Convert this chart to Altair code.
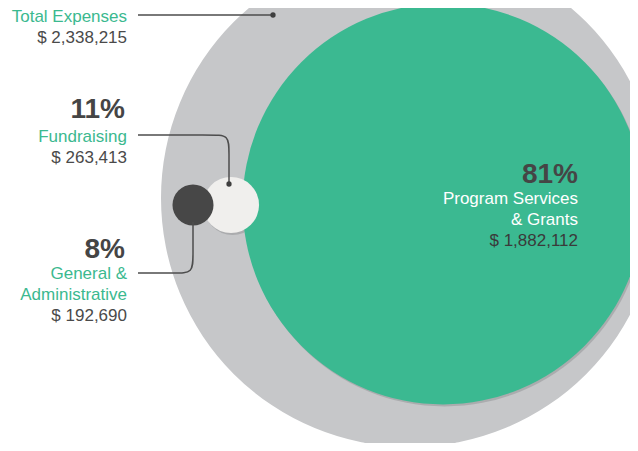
import altair as alt
import pandas as pd

# ---- data ----
categories = ["Total Expenses", "Program Services & Grants", "Fundraising", "General & Administrative"]
amounts = [2338215, 1882112, 263413, 192690]
percents = [None, 81, 11, 8]
label_lines = [["Total Expenses"], ["Program Services", "& Grants"], ["Fundraising"], ["General &", "Administrative"]]

# ---- layout (page pixel coordinates) ----
center_x = [410, 443, 231, 193]
center_y = [198, 204, 205, 205]
fills = ["#c6c7c9", "#3bb991", "#f0efed", "#474747"]
label_x = [127, 578, 127, 127]
pct_x = [None, 578, 125, 125]
pct_base = [None, 183, 118, 258]
label_base = [22, 204, 141.5, 279]
label_color = ["#3bb98f", "#ffffff", "#3bb98f", "#3bb98f"]
amount_color = ["#4a4a4a", "#3a3a3a", "#4a4a4a", "#4a4a4a"]
line_h = 21
R_MAX = 249

W, H = 622, 435
xs = alt.Scale(domain=[8, 8 + W], nice=False, zero=False)
ys = alt.Scale(domain=[8, 8 + H], nice=False, zero=False, reverse=True)
X = lambda f: alt.X(f, type="quantitative", scale=xs, axis=None)
Y = lambda f: alt.Y(f, type="quantitative", scale=ys, axis=None)

circles = pd.DataFrame({
    "category": categories, "amount": amounts,
    "x": center_x, "y": center_y, "fill": fills,
})
size_enc = alt.Size("amount:Q", legend=None,
                    scale=alt.Scale(type="pow", exponent=2, domain=[0, amounts[0]],
                                    range=[0, 4 * R_MAX ** 2]))

shadow = alt.Chart(circles).transform_filter(
    alt.FieldOneOfPredicate(field="category", oneOf=[categories[1], categories[2]])
).mark_circle(opacity=0.45, color="#8a8b8d", xOffset=1.5, yOffset=2, clip=True).encode(
    x=X("x"), y=Y("y"), size=size_enc
)

def circ(cat_list):
    return alt.Chart(circles).transform_filter(
        alt.FieldOneOfPredicate(field="category", oneOf=cat_list)
    ).mark_circle(opacity=1, clip=True).encode(
        x=X("x"), y=Y("y"), size=size_enc, color=alt.Color("fill:N", scale=None)
    )

gray = circ([categories[0]])
green = circ([categories[1]])
white = circ([categories[2]])
dark = circ([categories[3]])

# leader lines
lines = pd.DataFrame({
    "line": ["a", "a", "b", "b", "b", "b", "b", "c", "c", "c", "c", "c"],
    "i": [0, 1, 0, 1, 2, 3, 4, 0, 1, 2, 3, 4],
    "x": [138, 273, 138, 212, 229, 229, 229, 193, 193, 193, 176, 138],
    "y": [15, 15, 135, 135, 135, 152, 184, 222, 256, 273, 273, 273],
})
leader = alt.Chart(lines).mark_line(color="#4d4d4d", strokeWidth=1.5, interpolate="basis").encode(
    x=X("x"), y=Y("y"), detail="line:N", order="i:Q"
)
dots = pd.DataFrame({"x": [273, 229], "y": [15, 184]})
dot = alt.Chart(dots).mark_circle(color="#3f3f3f", opacity=1, size=28).encode(x=X("x"), y=Y("y"))

# text rows
reg_rows, bold_rows = [], []
for i in range(len(categories)):
    yb = label_base[i]
    for k, ln in enumerate(label_lines[i]):
        reg_rows.append({"text": ln, "x": label_x[i], "y": yb + k * line_h, "c": label_color[i]})
    reg_rows.append({"text": "$ " + f"{amounts[i]:,}", "x": label_x[i],
                     "y": yb + len(label_lines[i]) * line_h, "c": amount_color[i]})
    if percents[i] is not None:
        bold_rows.append({"text": f"{percents[i]}%", "x": pct_x[i], "y": pct_base[i], "c": "#454545"})

reg = alt.Chart(pd.DataFrame(reg_rows)).mark_text(
    align="right", baseline="alphabetic", font="Liberation Sans", fontSize=17
).encode(x=X("x"), y=Y("y"), text="text:N", color=alt.Color("c:N", scale=None))
bold = alt.Chart(pd.DataFrame(bold_rows)).mark_text(
    align="right", baseline="alphabetic", font="Liberation Sans", fontSize=28, fontWeight="bold"
).encode(x=X("x"), y=Y("y"), text="text:N", color=alt.Color("c:N", scale=None))

chart = alt.layer(gray, shadow, green, white, dark, leader, dot, reg, bold).properties(
    width=W, height=H, padding=0, autosize=alt.AutoSizeParams(type="none"), background="white"
).configure_view(stroke=None)

chart.save("out.html", embed_options={"renderer": "svg", "actions": False})
